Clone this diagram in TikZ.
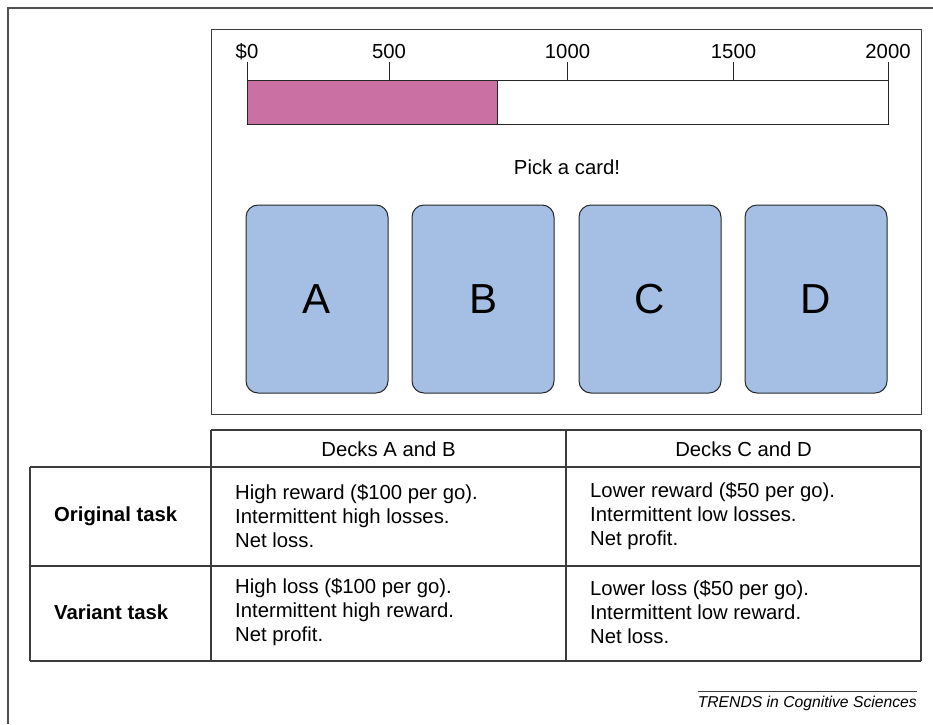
\documentclass[tikz,border=0pt]{standalone}
\usepackage{fontspec}
\setmainfont{Liberation Sans}
\definecolor{cardblue}{RGB}{164,191,227}
\definecolor{barpink}{RGB}{202,112,163}
\definecolor{linegray}{RGB}{60,60,60}
\begin{document}
\begin{tikzpicture}[x=1pt,y=-1pt,
  frame/.style={draw=linegray!90, line width=1.3pt},
  rule/.style={draw=linegray, line width=1.2pt},
  card/.style={draw=black!85, line width=1pt, fill=cardblue, rounded corners=12pt,
    minimum width=142pt, minimum height=188pt, inner sep=0pt,
    font=\fontsize{42}{48}\selectfont},
  lbl/.style={font=\fontsize{20.3}{24}\selectfont, inner sep=0pt},
  cell/.style={font=\fontsize{20.3}{24}\selectfont, align=left, anchor=west, inner sep=0pt},
  rowlbl/.style={font=\fontsize{20.3}{24}\selectfont\bfseries, anchor=west, inner sep=0pt},
  tick/.style={draw=black!85, line width=1pt}
]
\useasboundingbox (0,0) rectangle (933,724);
% outer frame (top and left edges)
\draw[frame] (8,724) -- (8,8) -- (933,8);
% screen
\node[draw=linegray, line width=1.3pt, minimum width=710pt, minimum height=385pt,
  anchor=north west, inner sep=0pt] (screen) at (211,29) {};
% progress bar
\node[fill=barpink, minimum width=250pt, minimum height=44pt, anchor=north west,
  inner sep=0pt] (fillbar) at (247,80) {};
\node[draw=black!85, line width=1pt, minimum width=641pt, minimum height=44pt,
  anchor=north west, inner sep=0pt] (bar) at (247,80) {};
\draw[tick] (fillbar.north east) -- (fillbar.south east);
\foreach \x/\t/\n in {247/\$0/t0, 389/500/t1, 567.5/1000/t2, 733.5/1500/t3, 888/2000/t4}{
  \coordinate (\n) at (\x,62);
  \draw[tick] (\x,80) -- (\n);
  \node[lbl] (l\n) at (\x,52) {\t};
}
\node[lbl] (pick) at (567,167) {Pick a card!};
% cards
\node[card] (A) at (317,299) {A};
\node[card] (B) at (483,299) {B};
\node[card] (C) at (650,299) {C};
\node[card] (D) at (816,299) {D};
% table
\draw[rule] (211,430) -- (921,430);
\draw[rule] (30,467) -- (921,467);
\draw[rule] (30,566) -- (921,566);
\draw[rule] (30,661) -- (921,661);
\draw[rule] (30,467) -- (30,661);
\draw[rule] (211,430) -- (211,661);
\draw[rule] (566,430) -- (566,661);
\draw[rule] (921,430) -- (921,661);
\node[lbl] (hAB) at (388.5,449) {Decks A and B};
\node[lbl] (hCD) at (743.5,449) {Decks C and D};
\node[rowlbl] (orig) at (54,516) {Original task};
\node[rowlbl] (var) at (54,612) {Variant task};
\node[cell] (c11) at (235,516) {High reward (\$100 per go).\\Intermittent high losses.\\Net loss.};
\node[cell] (c12) at (590,516) {Lower reward (\$50 per go).\\Intermittent low losses.\\Net profit.};
\node[cell] (c21) at (235,612) {High loss (\$100 per go).\\Intermittent high reward.\\Net profit.};
\node[cell] (c22) at (590,612) {Lower loss (\$50 per go).\\Intermittent low reward.\\Net loss.};
% footer
\node[font=\fontsize{15.7}{18}\selectfont\itshape, anchor=east, inner sep=0pt] (src) at (917,703) {TRENDS in Cognitive Sciences};
\draw[draw=linegray, line width=0.9pt] (src.north west |- 0,691) -- (src.north east |- 0,691);
\end{tikzpicture}
\end{document}
